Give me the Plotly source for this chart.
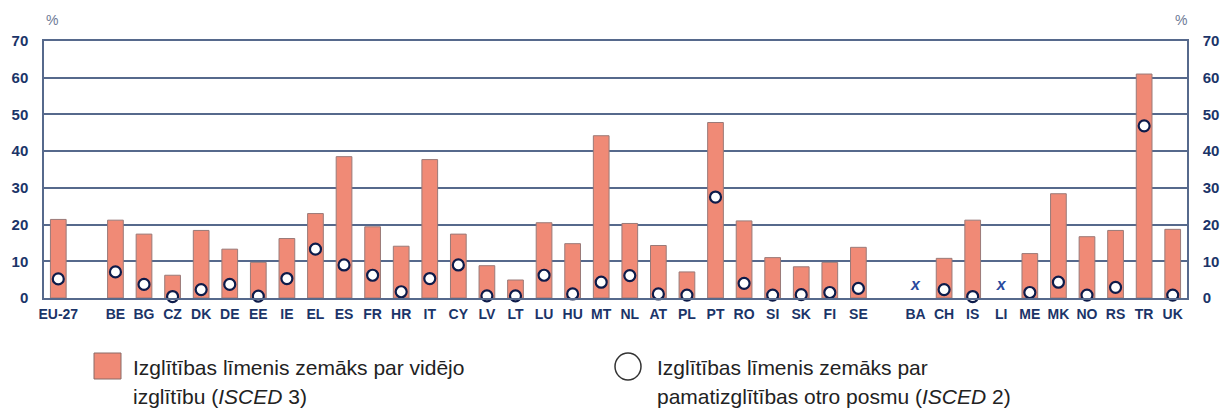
import plotly.graph_objects as go

# ---- data ----
categories = ["EU-27", " ",
              "BE", "BG", "CZ", "DK", "DE", "EE", "IE", "EL", "ES", "FR", "HR", "IT", "CY",
              "LV", "LT", "LU", "HU", "MT", "NL", "AT", "PL", "PT", "RO", "SI", "SK", "FI", "SE",
              "  ",
              "BA", "CH", "IS", "LI", "ME", "MK", "NO", "RS", "TR", "UK"]

countries = ["EU-27",
             "BE", "BG", "CZ", "DK", "DE", "EE", "IE", "EL", "ES", "FR", "HR", "IT", "CY",
             "LV", "LT", "LU", "HU", "MT", "NL", "AT", "PL", "PT", "RO", "SI", "SK", "FI", "SE",
             "BA", "CH", "IS", "LI", "ME", "MK", "NO", "RS", "TR", "UK"]

# below upper secondary (ISCED 3)
isced3 = [21.4,
          21.2, 17.4, 6.2, 18.4, 13.3, 9.7, 16.2, 23.0, 38.5, 19.4, 14.1, 37.7, 17.4,
          8.8, 4.9, 20.5, 14.8, 44.2, 20.3, 14.3, 7.1, 47.8, 21.0, 11.0, 8.5, 9.7, 13.8,
          None, 10.8, 21.2, None, 12.1, 28.4, 16.7, 18.4, 61.0, 18.7]

# below lower secondary (ISCED 2)
isced2 = [5.2,
          7.1, 3.7, 0.4, 2.3, 3.7, 0.5, 5.3, 13.3, 9.0, 6.2, 1.7, 5.3, 9.0,
          0.6, 0.6, 6.2, 1.1, 4.3, 6.1, 1.1, 0.8, 27.5, 4.0, 0.8, 0.9, 1.5, 2.6,
          None, 2.3, 0.4, None, 1.5, 4.3, 0.8, 2.9, 46.9, 0.8]

na_label_level = 3.3
y_ticks = [0, 10, 20, 30, 40, 50, 60, 70]

legend_bar = "Izglītības līmenis zemāks par vidējo"
legend_bar2 = "izglītību (<i>ISCED</i> 3)"
legend_dot = "Izglītības līmenis zemāks par"
legend_dot2 = "pamatizglītības otro posmu (<i>ISCED</i> 2)"

# ---- styles ----
W, H = 1221, 408
L, R, T, B = 44, 1187, 41, 298
NAVY = "#1b3468"
GRID = "#56698c"
BAR = "#f08a76"
FONT = "Liberation Sans, Arial, sans-serif"

def px(xp):
    return (xp - L) / (R - L)

def py(yp):
    return (B - yp) / (B - T)

fig = go.Figure()

fig.add_trace(go.Bar(
    x=countries, y=isced3, width=0.55,
    marker=dict(color=BAR, line=dict(color="#9a7a78", width=1)),
    showlegend=False, hoverinfo="x+y",
))

fig.add_trace(go.Scatter(
    x=countries, y=isced2, mode="markers",
    marker=dict(symbol="circle", size=11, color="white",
                line=dict(color="#0d1b4a", width=2.2)),
    showlegend=False, cliponaxis=False,
))

na_x = [c for c, v in zip(countries, isced3) if v is None]
fig.add_trace(go.Scatter(
    x=na_x, y=[na_label_level] * len(na_x), mode="text",
    text=["<b><i>x</i></b>"] * len(na_x),
    textfont=dict(family=FONT, size=16, color="#2a4a9e"),
    showlegend=False, hoverinfo="skip",
))

# invisible trace to activate the right axis
fig.add_trace(go.Scatter(x=[categories[0]], y=[0], yaxis="y2", mode="markers",
                         marker=dict(opacity=0), showlegend=False, hoverinfo="skip"))

tick_font = dict(family=FONT, size=15, color=NAVY, weight="bold")

fig.update_layout(
    width=W, height=H,
    margin=dict(l=L, r=W - R, t=T, b=H - B, autoexpand=False),
    paper_bgcolor="white", plot_bgcolor="white",
    xaxis=dict(
        type="category", categoryorder="array", categoryarray=categories,
        range=[-0.5, len(categories) - 0.5],
        showgrid=False, zeroline=False,
        showline=True, linecolor=GRID, linewidth=1.5, mirror=True,
        ticks="", ticklabelstandoff=2,
        tickfont=dict(family=FONT, size=14, color=NAVY, weight="bold"),
        automargin=False, fixedrange=True,
    ),
    yaxis=dict(
        range=[0, 70], tickvals=y_ticks,
        showgrid=True, gridcolor=GRID, gridwidth=1.5,
        zeroline=False, showline=True, linecolor=GRID, linewidth=1.5,
        ticks="", ticklabelstandoff=11,
        tickfont=tick_font,
        automargin=False, fixedrange=True,
    ),
    yaxis2=dict(
        overlaying="y", side="right", range=[0, 70], tickvals=y_ticks,
        showgrid=False, zeroline=False, showline=True, linecolor=GRID, linewidth=1.5,
        ticks="", ticklabelstandoff=11,
        tickfont=tick_font,
        automargin=False, fixedrange=True,
    ),
)

anns = [
    dict(x=px(52), y=py(20), text="%", font=dict(family=FONT, size=14, color="#6d7a96")),
    dict(x=px(1181), y=py(20), text="%", font=dict(family=FONT, size=14, color="#6d7a96")),
]
for a in anns:
    a.update(xref="paper", yref="paper", showarrow=False, xanchor="center", yanchor="middle")

leg_font = dict(family=FONT, size=21, color="#222222")
for xx, yy, t in [(131, 367, legend_bar), (131, 396, legend_bar2),
                  (655, 367, legend_dot), (655, 396, legend_dot2)]:
    anns.append(dict(x=px(xx), y=py(yy), xref="paper", yref="paper", text=t,
                     showarrow=False, xanchor="left", yanchor="middle", font=leg_font))

fig.update_layout(annotations=anns)

fig.add_shape(type="rect", xref="paper", yref="paper",
              x0=px(94), x1=px(121), y0=py(353), y1=py(379),
              fillcolor=BAR, line=dict(color="#8a6a66", width=1))
fig.add_shape(type="circle", xref="paper", yref="paper",
              x0=px(615), x1=px(641), y0=py(353), y1=py(380),
              fillcolor="white", line=dict(color="#333333", width=1.5))

fig.write_html("out.html", config={"displayModeBar": False},
               post_script="document.body.style.margin='0';document.body.style.overflow='hidden';")
